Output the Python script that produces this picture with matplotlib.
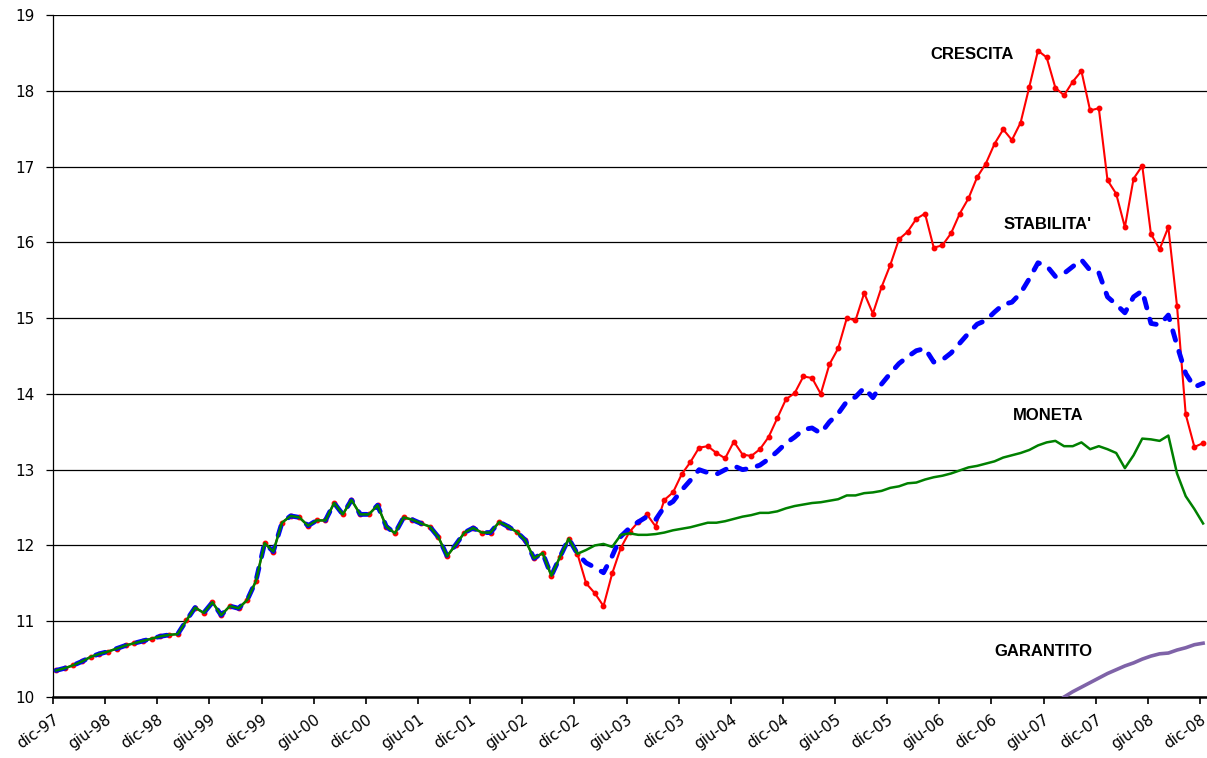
import numpy as np
import matplotlib.pyplot as plt

# valore quota mensile, dic-97 .. dic-08
# fino a dic-02 i tre comparti coincidono
comune = [10.35, 10.38, 10.42, 10.47, 10.53, 10.57, 10.60, 10.64, 10.68, 10.71,
          10.74, 10.77, 10.80, 10.82, 10.83, 11.01, 11.18, 11.11, 11.25, 11.08,
          11.20, 11.17, 11.28, 11.53, 12.03, 11.92, 12.30, 12.39, 12.37, 12.26,
          12.33, 12.33, 12.56, 12.41, 12.60, 12.41, 12.41, 12.53, 12.25, 12.16,
          12.37, 12.34, 12.29, 12.25, 12.11, 11.86, 12.01, 12.17, 12.23, 12.17,
          12.17, 12.31, 12.25, 12.18, 12.07, 11.83, 11.90, 11.60, 11.85, 12.09,
          11.89]

crescita_coda = [11.50, 11.37, 11.20, 11.63, 11.97, 12.18, 12.31, 12.41, 12.25, 12.60,
                 12.70, 12.94, 13.10, 13.29, 13.31, 13.22, 13.15, 13.37, 13.20, 13.18,
                 13.27, 13.43, 13.68, 13.93, 14.01, 14.23, 14.21, 14.00, 14.39, 14.60,
                 15.00, 14.97, 15.33, 15.06, 15.41, 15.70, 16.04, 16.14, 16.31, 16.38,
                 15.93, 15.96, 16.12, 16.38, 16.58, 16.86, 17.04, 17.30, 17.49, 17.35,
                 17.58, 18.05, 18.53, 18.44, 18.04, 17.94, 18.12, 18.26, 17.74, 17.77,
                 16.82, 16.64, 16.20, 16.84, 17.01, 16.11, 15.91, 16.20, 15.16, 13.73,
                 13.30, 13.35]

stabilita_coda = [11.77, 11.71, 11.64, 11.86, 12.12, 12.23, 12.31, 12.38, 12.34, 12.51,
                  12.58, 12.73, 12.86, 13.00, 12.96, 12.94, 13.00, 13.05, 13.00, 13.02,
                  13.06, 13.14, 13.24, 13.35, 13.43, 13.53, 13.55, 13.48, 13.63, 13.74,
                  13.90, 13.96, 14.08, 13.95, 14.13, 14.27, 14.40, 14.49, 14.57, 14.60,
                  14.42, 14.45, 14.54, 14.67, 14.80, 14.92, 14.97, 15.08, 15.18, 15.21,
                  15.33, 15.52, 15.73, 15.69, 15.55, 15.59, 15.68, 15.77, 15.63, 15.60,
                  15.28, 15.18, 15.07, 15.28, 15.36, 14.93, 14.91, 15.04, 14.64, 14.27,
                  14.09, 14.14]

moneta_coda = [11.94, 12.00, 12.02, 11.98, 12.14, 12.16, 12.14, 12.14, 12.15, 12.17,
               12.20, 12.22, 12.24, 12.27, 12.30, 12.30, 12.32, 12.35, 12.38, 12.40,
               12.43, 12.43, 12.45, 12.49, 12.52, 12.54, 12.56, 12.57, 12.59, 12.61,
               12.66, 12.66, 12.69, 12.70, 12.72, 12.76, 12.78, 12.82, 12.83, 12.87,
               12.90, 12.92, 12.95, 12.99, 13.03, 13.05, 13.08, 13.11, 13.16, 13.19,
               13.22, 13.26, 13.32, 13.36, 13.38, 13.31, 13.31, 13.36, 13.27, 13.31,
               13.27, 13.22, 13.02, 13.19, 13.41, 13.40, 13.38, 13.45, 12.95, 12.65,
               12.48, 12.29]

# comparto garantito: parte da ago-07
garantito = [10.00, 10.07, 10.13, 10.19, 10.25, 10.31, 10.36, 10.41, 10.45, 10.50,
             10.54, 10.57, 10.58, 10.62, 10.65, 10.69, 10.71]
inizio_garantito = 116

etichette = ['dic-97', 'giu-98', 'dic-98', 'giu-99', 'dic-99', 'giu-00', 'dic-00',
             'giu-01', 'dic-01', 'giu-02', 'dic-02', 'giu-03', 'dic-03', 'giu-04',
             'dic-04', 'giu-05', 'dic-05', 'giu-06', 'dic-06', 'giu-07', 'dic-07',
             'giu-08', 'dic-08']

crescita = comune + crescita_coda
stabilita = comune + stabilita_coda
moneta = comune + moneta_coda

mesi = np.arange(len(crescita)) + 0.35
mesi_g = np.arange(inizio_garantito, inizio_garantito + len(garantito)) + 0.35

fig = plt.figure(figsize=(12.07, 7.58), dpi=100)
ax = fig.add_axes([53 / 1207, 61 / 758, 1154 / 1207, 682 / 758])

ax.plot(mesi, crescita, color='#FF0000', lw=1.5, marker='o', ms=3.2, zorder=2)
ax.plot(mesi, stabilita, color='#0000FF', lw=3.5, ls=(0, (2.0, 2.4)),
        dash_capstyle='round', zorder=3)
ax.plot(mesi, moneta, color='#008000', lw=1.8, zorder=4)
ax.plot(mesi_g, garantito, color='#7F63A8', lw=2.6, zorder=4)

ax.set_xlim(0, 132.8)
ax.set_ylim(10, 19)
ax.set_yticks(range(10, 20))
ax.set_xticks(np.arange(0, 6 * len(etichette), 6))
ax.set_xticklabels(etichette, rotation=35, ha='right', va='top',
                   rotation_mode='anchor')
ax.grid(axis='y', color='black', lw=0.9)
ax.set_axisbelow(True)

for s in ['top', 'right']:
    ax.spines[s].set_visible(False)
ax.spines['left'].set_linewidth(0.9)
ax.spines['bottom'].set_linewidth(1.8)
ax.tick_params(axis='x', length=5, width=1.2, pad=6, labelsize=11)
ax.tick_params(axis='y', length=5, width=0.9, pad=8, labelsize=11)

font_etichette = dict(family='Liberation Sans', weight='bold', size=12,
                      ha='center', va='center')
ax.text(105.75, 18.48, 'CRESCITA', **font_etichette)
ax.text(114.5, 16.24, "STABILITA'", **font_etichette)
ax.text(114.5, 13.71, 'MONETA', **font_etichette)
ax.text(114.0, 10.60, 'GARANTITO', **font_etichette)

fig.savefig('out.png', dpi=100)
